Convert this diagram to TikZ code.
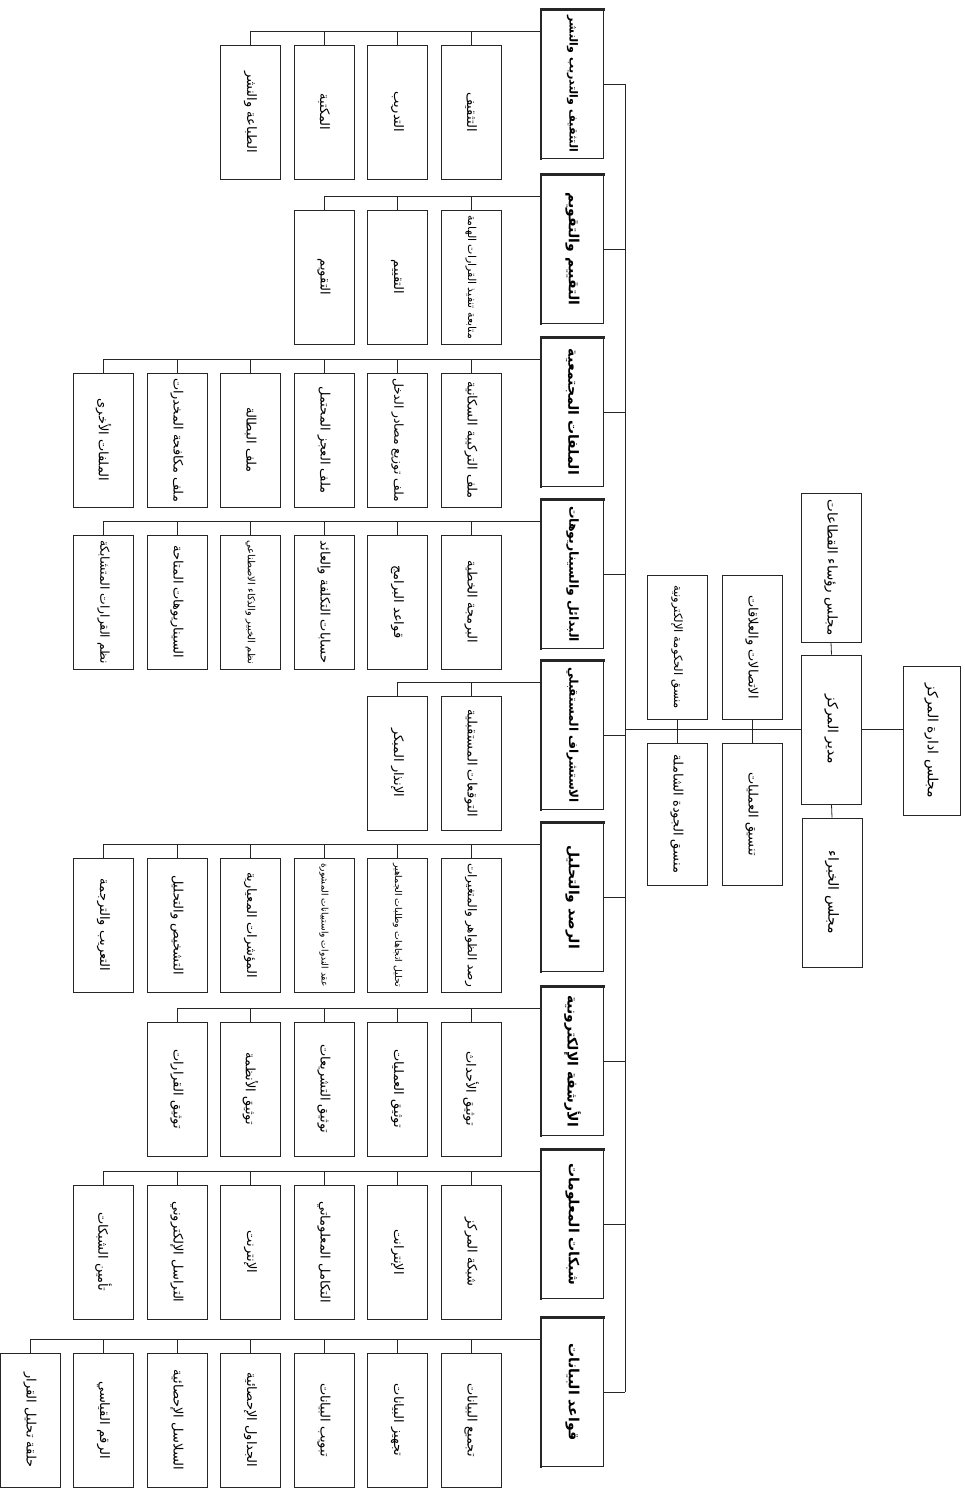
\documentclass[tikz,border=0pt]{standalone}
\usepackage{fontspec}
\newfontfamily\arabicfont[Script=Arabic]{DejaVu Sans}
\TeXXeTstate=1

% Arabic label, shrunk when longer than the box allows
\newsavebox\lblbox
\newcommand\fitlbl[2]{\sbox\lblbox{\arabicfont\beginR#2\endR}%
  \ifdim\wd\lblbox>#1\relax\resizebox{#1}{!}{\usebox\lblbox}\else\usebox\lblbox\fi}
\newcommand\deptlbl[1]{\fitlbl{136pt}{#1}}
\newcommand\unitlbl[1]{\fitlbl{124pt}{#1}}

\begin{document}
\begin{tikzpicture}[
    x=1pt, y=-1pt, % page pixels, y downwards
    line width=0.8pt, draw=black!85,
    box/.style={draw, rotate=-90, inner sep=2pt, minimum height=60, fill=white},
    head/.style={box, minimum width=149, font=\fontsize{14}{16}\selectfont},
    dept/.style={box, minimum width=148, minimum height=62, font=\fontsize{14}{16}\bfseries},
    unit/.style={box, minimum width=134, font=\fontsize{13}{15}\selectfont},
    thickedge/.style={line width=2.6pt, line cap=rect}
]
\useasboundingbox (0,0) rectangle (965,1490);

% Top of the tree
\node[head, minimum height=57] (board) at (931.5,741) {\deptlbl{مجلس ادارة المركز}};
\node[head] (dir) at (831.5,729.5) {\deptlbl{مدير المركز}};
\node[head] (heads) at (831,567.5) {\deptlbl{مجلس رؤساء القطاعات}};
\node[head] (experts) at (832,892.5) {\deptlbl{مجلس الخبراء}};
\draw (dir.north) -- (dir.north -| board.south);
\draw (dir.west) -- (heads.east);
\draw (dir.east) -- (experts.west);

% Staff units on the line to the departments
\node[unit, minimum width=144] (pr) at (752,647) {\unitlbl{الاتصالات والعلاقات}};
\node[unit, minimum width=142] (ops) at (752,814) {\unitlbl{تنسيق العمليات}};
\node[unit, minimum width=144] (egov) at (677,647) {\unitlbl{منسق الحكومة الإلكترونية}};
\node[unit, minimum width=142] (tqm) at (677,814) {\unitlbl{منسق الجودة الشاملة}};
\draw (pr.east) -- (ops.west);
\draw (egov.east) -- (tqm.west);

% Department bus
\coordinate (busx) at (625,0);
\draw (dir.south) -- (dir.south -| busx);

% Departments
\node[dept] (d1) at (572.5,84) {\deptlbl{التثقيف والتدريب والنشر}};
\node[dept] (d2) at (572.5,249) {\deptlbl{التقييم والتقويم}};
\node[dept] (d3) at (572.5,412) {\deptlbl{الملفات المجتمعية}};
\node[dept] (d4) at (572.5,574) {\deptlbl{البدائل والسيناريوهات}};
\node[dept] (d5) at (572.5,735) {\deptlbl{الاستشراف المستقبلي}};
\node[dept] (d6) at (572.5,897) {\deptlbl{الرصد والتحليل}};
\node[dept] (d7) at (572.5,1061) {\deptlbl{الأرشفة الإلكترونية}};
\node[dept] (d8) at (572.5,1224) {\deptlbl{شبكات المعلومات}};
\node[dept] (d9) at (572.5,1392) {\deptlbl{قواعد البيانات}};

\draw (d1.north -| busx) -- (d9.north -| busx);
\foreach \d in {d1,d2,d3,d4,d5,d6,d7,d8,d9} {
  \draw (\d.north) -- (\d.north -| busx);
  \draw[thickedge] (\d.south east) -- (\d.south west) -- (\d.north west);
}

% Units of each department
\foreach \txt [count=\k] in {التثقيف, التدريب, المكتبة, الطباعة والنشر} {
  \node[unit] (d1u\k) at ({544.5-73.5*\k},112) {\unitlbl{\txt}};
  \draw (d1u\k.west) -- ++(0,-13);
}
\draw (d1.south west) ++(0,22) -| (d1u4.west);

\foreach \txt [count=\k] in {متابعة تنفيذ القرارات الهامة, التقييم, التقويم} {
  \node[unit] (d2u\k) at ({544.5-73.5*\k},277) {\unitlbl{\txt}};
  \draw (d2u\k.west) -- ++(0,-13);
}
\draw (d2.south west) ++(0,22) -| (d2u3.west);

\foreach \txt [count=\k] in {ملف التركيبة السكانية, ملف توزيع مصادر الدخل, ملف العجز المحتمل, ملف البطالة, ملف مكافحة المخدرات, الملفات الأخرى} {
  \node[unit] (d3u\k) at ({544.5-73.5*\k},440) {\unitlbl{\txt}};
  \draw (d3u\k.west) -- ++(0,-13);
}
\draw (d3.south west) ++(0,22) -| (d3u6.west);

\foreach \txt [count=\k] in {البرمجة الخطية, قواعد البرامج, حسابات التكلفة والعائد, نظم الخبير والذكاء الاصطناعي, السيناريوهات المتاحة, نظم القرارات المتشابكة} {
  \node[unit] (d4u\k) at ({544.5-73.5*\k},602) {\unitlbl{\txt}};
  \draw (d4u\k.west) -- ++(0,-13);
}
\draw (d4.south west) ++(0,22) -| (d4u6.west);

\foreach \txt [count=\k] in {التوقعات المستقبلية, الإنذار المبكر} {
  \node[unit] (d5u\k) at ({544.5-73.5*\k},763) {\unitlbl{\txt}};
  \draw (d5u\k.west) -- ++(0,-13);
}
\draw (d5.south west) ++(0,22) -| (d5u2.west);

\foreach \txt [count=\k] in {رصد الظواهر والمتغيرات, تحليل اتجاهات وطلبات الجماهير, عقد الندوات واستبيانات المشورة, المؤشرات المعيارية, التشخيص والتحليل, التعريب والترجمة} {
  \node[unit] (d6u\k) at ({544.5-73.5*\k},925) {\unitlbl{\txt}};
  \draw (d6u\k.west) -- ++(0,-13);
}
\draw (d6.south west) ++(0,22) -| (d6u6.west);

\foreach \txt [count=\k] in {توثيق الأحداث, توثيق العمليات, توثيق التشريعات, توثيق الأنظمة, توثيق القرارات} {
  \node[unit] (d7u\k) at ({544.5-73.5*\k},1089) {\unitlbl{\txt}};
  \draw (d7u\k.west) -- ++(0,-13);
}
\draw (d7.south west) ++(0,22) -| (d7u5.west);

\foreach \txt [count=\k] in {شبكة المركز, الإنترانت, التكامل المعلوماتي, الإنترنت, التراسل الإلكتروني, تأمين الشبكات} {
  \node[unit] (d8u\k) at ({544.5-73.5*\k},1252) {\unitlbl{\txt}};
  \draw (d8u\k.west) -- ++(0,-13);
}
\draw (d8.south west) ++(0,22) -| (d8u6.west);

\foreach \txt [count=\k] in {تجميع البيانات, تجهيز البيانات, تبويب البيانات, الجداول الإحصائية, السلاسل الإحصائية, الرقم القياسي, حلقة تحليل القرار} {
  \node[unit] (d9u\k) at ({544.5-73.5*\k},1420) {\unitlbl{\txt}};
  \draw (d9u\k.west) -- ++(0,-13);
}
\draw (d9.south west) ++(0,22) -| (d9u7.west);

\end{tikzpicture}
\end{document}
